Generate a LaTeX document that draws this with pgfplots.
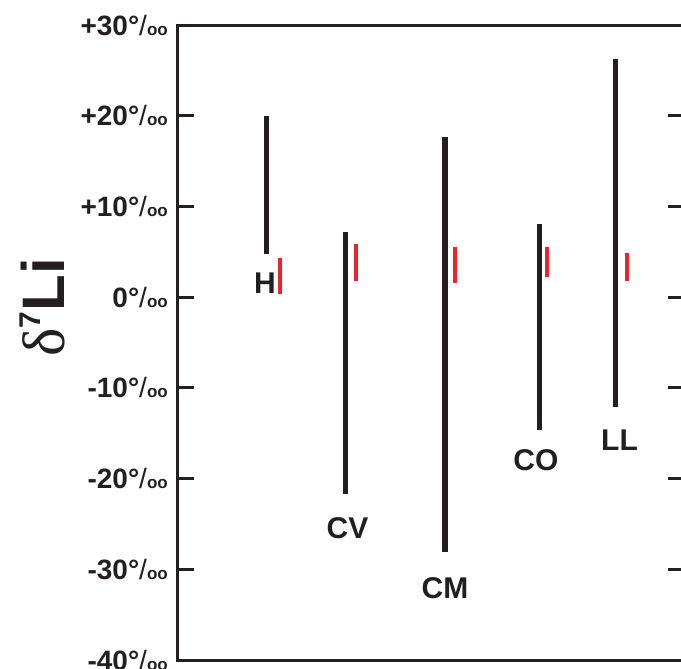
\documentclass[border=0pt]{standalone}
\usepackage{pgfplots}
\pgfplotsset{compat=1.18}
\usepackage{fontspec}
\setmainfont{Liberation Sans}
\newfontfamily\serifdelta{Liberation Serif}

\definecolor{ink}{RGB}{35,31,32}
\definecolor{rangered}{RGB}{232,38,43}

% per-mil style tick label: bold value, raised circle, slash, small "oo"
\newcommand\permil[1]{{\bfseries #1°}{\mdseries /}{\fontsize{17}{17}\selectfont\bfseries oo}}

\begin{document}
\begin{tikzpicture}
\begin{axis}[
  scale only axis,
  width=506pt, height=635pt,
  xmin=178, xmax=684,
  ymin=-40, ymax=30,
  xtick=\empty,
  ytick={-40,-30,-20,-10,0,10,20,30},
  yticklabels={\permil{-40},\permil{-30},\permil{-20},\permil{-10},\permil{0},\permil{+10},\permil{+20},\permil{+30}},
  tick align=inside,
  major tick length=16pt,
  axis line style={ink, line width=3pt},
  every tick/.style={ink, line width=3pt},
  yticklabel style={inner sep=0pt, anchor=east, xshift=-10pt, text=ink,
    font=\fontsize{28}{30}\selectfont},
  clip=false,
]
% full ranges (black)
\addplot[ink, line width=5.2pt] coordinates {(266.7,20.0) (266.7,4.8)};
\addplot[ink, line width=5.2pt] coordinates {(345.3,7.2) (345.3,-21.7)};
\addplot[ink, line width=5.2pt] coordinates {(445.0,17.65) (445.0,-28.1)};
\addplot[ink, line width=5.2pt] coordinates {(539.3,8.06) (539.3,-14.6)};
\addplot[ink, line width=5.2pt] coordinates {(615.7,26.25) (615.7,-12.1)};
% narrow ranges (red)
\addplot[rangered, line width=4.3pt] coordinates {(280.3,4.3) (280.3,0.3)};
\addplot[rangered, line width=4.3pt] coordinates {(355.7,5.86) (355.7,1.78)};
\addplot[rangered, line width=4.3pt] coordinates {(455.3,5.56) (455.3,1.53)};
\addplot[rangered, line width=4.3pt] coordinates {(547.0,5.56) (547.0,2.26)};
\addplot[rangered, line width=4.3pt] coordinates {(626.7,4.83) (626.7,1.74)};
% group names
\begin{scope}[every node/.style={text=ink, font=\bfseries\fontsize{30}{32}\selectfont, inner sep=0pt}]
\node at (axis cs:265,1.56) {H};
\node at (axis cs:347.5,-25.45) {CV};
\node at (axis cs:445,-32.06) {CM};
\node at (axis cs:536,-17.95) {CO};
\node at (axis cs:619.5,-15.75) {LL};
\end{scope}
% axis title
\node[rotate=90, text=ink, inner sep=0pt] at (axis cs:42,-1.1)
  {{\serifdelta\fontsize{60}{60}\selectfont δ}\raisebox{24pt}{\bfseries\fontsize{30}{30}\selectfont 7}{\bfseries\fontsize{60}{60}\selectfont Li}};
\coordinate (bl) at (axis cs:0,-40.88);
\coordinate (tr) at (axis cs:681,32.76);
\end{axis}
\pgfresetboundingbox
\useasboundingbox (bl) rectangle (tr);
\end{tikzpicture}
\end{document}
